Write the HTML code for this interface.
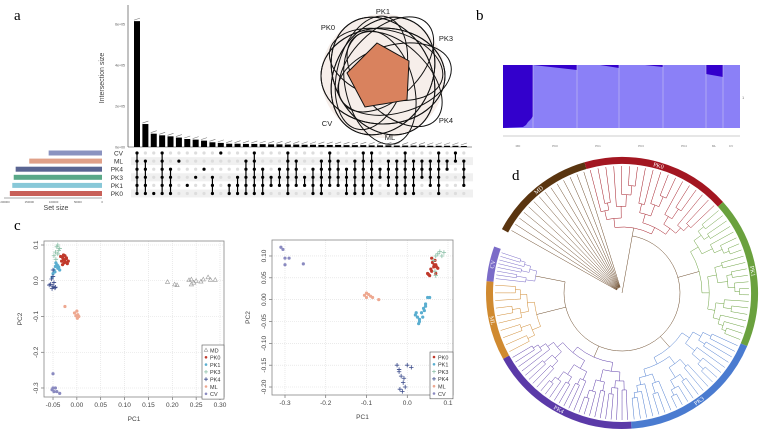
<!DOCTYPE html>
<html><head><meta charset="utf-8"><style>
body{margin:0;background:#fff;width:764px;height:436px;overflow:hidden;font-family:"Liberation Sans",sans-serif}
svg{position:absolute;left:0;top:0}
</style></head><body>
<svg id="s" width="764" height="436" viewBox="0 0 764 436">
<g font-family="Liberation Serif, serif" font-size="15" fill="#000">
<text x="14" y="20">a</text>
<text x="476" y="20">b</text>
<text x="14" y="230">c</text>
<text x="512" y="180">d</text>
</g>
<g id="upset"></g>
<g id="venn"></g>
<g id="struct"></g>
<g id="pca1"></g>
<g id="pca2"></g>
<g id="tree"></g>
</svg>
<script>
// ===== UpSet data =====
const upsetSets=["CV","ML","PK4","PK3","PK1","PK0"];
const setSizes=[110000,150000,178000,182000,185000,190000];
const setColors=["#8b93c0","#e0a088","#5a6592","#5aa888","#88c8d8","#c86058"];
const interSizes=[614000,112000,65000,57000,52000,46000,39000,36000,31000,23000,20000,16000,16000,15000,15000,14000,13000,13000,12000,12000,11000,11000,10000,10000,10000,9000,9000,9000,8000,8000,8000,7000,7000,7000,7000,6000,6000,6000,6000,5000];
const interMembers=["CV,ML,PK4,PK3,PK1,PK0","ML,PK4,PK3,PK1,PK0","PK0","CV,ML,PK4,PK3,PK1,PK0","PK4,PK3,PK1,PK0","ML","PK1","PK3","PK4","PK3,PK1,PK0","CV","PK1,PK0","PK3,PK1,PK0","ML,PK4,PK3,PK1,PK0","CV,ML,PK4,PK3,PK1,PK0","PK4,PK3,PK1,PK0","PK3,PK1","PK4,PK3,PK1","CV,ML,PK4,PK3,PK1,PK0","ML,PK4,PK3,PK1","PK3,PK1","PK4,PK3,PK1,PK0","ML,PK4,PK3,PK1,PK0","CV,ML,PK4,PK3,PK1","ML,PK4,PK3,PK1","PK4,PK3,PK1,PK0","ML,PK4,PK3,PK1,PK0","CV,ML,PK4,PK3,PK1,PK0","CV,ML,PK4,PK3,PK1,PK0","PK4,PK3","ML,PK4,PK3,PK1","ML,PK4,PK3,PK1,PK0","CV,ML,PK4,PK3,PK1,PK0","ML,PK4,PK3,PK1,PK0","ML,PK4,PK3","ML,PK4,PK3,PK1","CV,ML,PK4,PK3,PK1,PK0","ML,PK4","CV,ML","ML,PK4,PK3,PK1"];
const yTicksUp=[0,200000,400000,600000];
const yTickLabelsUp=["0e+00","2e+05","4e+05","6e+05"];

// ===== PCA left data =====
const pcaGroups=["MD","PK0","PK1","PK3","PK4","ML","CV"];
const pcaColors=["#999","#c0392b","#5aaed0","#8cc0a8","#3a4a8a","#eea890","#8a8ac0"];
const pcaSym=["tri","dot","dot","plus","plus","dot","dot"];
const p1x={MD:[0.19,0.205,0.21,0.235,0.24,0.245,0.25,0.26,0.265,0.275,0.28,0.29,0.24],
 PK0:[-0.03,-0.028,-0.025,-0.032,-0.027,-0.022,-0.03,-0.026,-0.02,-0.018,-0.034,-0.024,-0.028,-0.022],
 PK1:[-0.045,-0.042,-0.04,-0.048,-0.038,-0.044,-0.05,-0.036,-0.046,-0.04,-0.052],
 PK3:[-0.042,-0.038,-0.045,-0.04,-0.036,-0.048,-0.044,-0.04],
 PK4:[-0.055,-0.05,-0.048,-0.053,-0.046,-0.058,-0.05,-0.045,-0.052,-0.05],
 ML:[-0.025,-0.005,0.0,0.002,0.004,-0.002,0.001],
 CV:[-0.05,-0.052,-0.048,-0.045,-0.042,-0.05,-0.036]};
const p1y={MD:[-0.003,-0.01,-0.012,0.002,0.004,-0.005,0.0,-0.002,0.004,0.01,0.003,0.003,-0.01],
 PK0:[0.065,0.06,0.07,0.055,0.05,0.062,0.045,0.058,0.048,0.055,0.068,0.052,0.072,0.064],
 PK1:[0.04,0.045,0.035,0.03,0.038,0.05,0.02,0.03,0.025,0.042,0.01],
 PK3:[0.095,0.085,0.08,0.075,0.09,0.07,0.06,0.1],
 PK4:[-0.01,-0.015,-0.005,0.005,-0.02,-0.012,0.012,-0.018,-0.022,0.03],
 ML:[-0.072,-0.09,-0.085,-0.095,-0.1,-0.098,-0.105],
 CV:[-0.3,-0.305,-0.31,-0.3,-0.31,-0.26,-0.315]};
const p1xTicks=[-0.05,0,0.05,0.1,0.15,0.2,0.25,0.3];
const p1xLabels=["-0.05","0.00","0.05","0.10","0.15","0.20","0.25","0.30"];
const p1yTicks=[0.1,0,-0.1,-0.2,-0.3];
const p1yLabels=["0.1","0.0","-0.1","-0.2","-0.3"];

// ===== PCA right data =====
const pca2Groups=["PK0","PK1","PK3","PK4","ML","CV"];
const p2x={PK0:[0.05,0.055,0.06,0.065,0.07,0.062,0.058,0.068,0.072,0.052,0.066,0.06,0.075,0.07],
 PK1:[0.02,0.025,0.03,0.035,0.04,0.045,0.05,0.03,0.038,0.042,0.028,0.055,0.045,0.022],
 PK3:[0.07,0.075,0.08,0.085,0.09,0.065,0.07,0.068],
 PK4:[-0.025,-0.02,-0.015,-0.01,-0.005,0.0,0.01,-0.018,-0.012,-0.008,-0.02],
 ML:[-0.105,-0.1,-0.095,-0.09,-0.085,-0.07,-0.1],
 CV:[-0.31,-0.305,-0.3,-0.3,-0.29,-0.255]};
const p2y={PK0:[0.06,0.055,0.065,0.075,0.08,0.085,0.07,0.09,0.075,0.058,0.08,0.095,0.072,0.06],
 PK1:[-0.035,-0.04,-0.045,-0.03,-0.02,-0.01,0.005,-0.05,-0.04,-0.025,-0.055,0.005,-0.015,-0.03],
 PK3:[0.1,0.105,0.11,0.1,0.108,0.09,0.055,0.065],
 PK4:[-0.15,-0.16,-0.175,-0.19,-0.2,-0.15,-0.155,-0.205,-0.21,-0.18,-0.165],
 ML:[0.01,0.005,0.012,0.008,0.005,0.0,0.015],
 CV:[0.12,0.115,0.095,0.08,0.095,0.082]};
const p2xTicks=[-0.3,-0.2,-0.1,0,0.1];
const p2xLabels=["-0.3","-0.2","-0.1","0.0","0.1"];
const p2yTicks=[0.1,0.05,0,-0.05,-0.1,-0.15,-0.2];
const p2yLabels=["0.10","0.05","0.00","-0.05","-0.10","-0.15","-0.20"];

const NS="http://www.w3.org/2000/svg";
function mk(parent,tag,attrs,txt){const e=document.createElementNS(NS,tag);for(const k in attrs)e.setAttribute(k,attrs[k]);if(txt!==undefined)e.textContent=txt;parent.appendChild(e);return e;}

// ===== UpSet =====
(function(){
const g=document.getElementById('upset');
const base=147, top6=24;
const yS=v=>base-(v/600000)*(base-top6);
const x0=134, step=8.38, bw=6;
const xS=i=>x0+i*step;
mk(g,'line',{x1:128,y1:5,x2:128,y2:base,stroke:'#333','stroke-width':0.6});
mk(g,'line',{x1:128,y1:base,x2:472,y2:base,stroke:'#333','stroke-width':0.6});
yTicksUp.forEach((t,i)=>{const tl=mk(g,'text',{x:125,y:yS(t)+1.5,'font-size':3.5,'text-anchor':'end',fill:'#555'},yTickLabelsUp[i]);

});
const yt=mk(g,'text',{x:0,y:0,'font-size':7,fill:'#444','text-anchor':'middle',transform:'translate(104,78) rotate(-90)'},'Intersection size');


interSizes.forEach((v,i)=>{const r=mk(g,'rect',{x:xS(i),y:yS(v),width:bw,height:base-yS(v),fill:'#000'});


mk(g,'line',{x1:xS(i),y1:yS(v)-1,x2:xS(i)+bw,y2:yS(v)-3,stroke:'#777','stroke-width':0.6});});
const rowY=k=>153+k*8.1;
upsetSets.forEach((s,k)=>{ if(k%2==1) mk(g,'rect',{x:131,y:rowY(k)-4,width:342,height:8,fill:'#f0f0f0'});
const lab=mk(g,'text',{x:123,y:rowY(k)+2.5,'font-size':6.5,'text-anchor':'end',fill:'#333'},s);


const w=(setSizes[k]/200000)*97;
const sb=mk(g,'rect',{x:102-w,y:rowY(k)-2.5,width:w,height:5,fill:setColors[k]});

});
interMembers.forEach((m,i)=>{const cx=xS(i)+bw/2;const mem=m.split(',');
const idx=mem.map(s=>upsetSets.indexOf(s));
upsetSets.forEach((s,k)=>{mk(g,'circle',{cx:cx,cy:rowY(k),r:1.6,fill:idx.includes(k)?'#000':'#ddd'});});
if(idx.length>1){mk(g,'line',{x1:cx,y1:rowY(Math.min(...idx)),x2:cx,y2:rowY(Math.max(...idx)),stroke:'#000','stroke-width':1.2});}});
mk(g,'line',{x1:4,y1:198,x2:102,y2:198,stroke:'#555','stroke-width':0.5});
["200000","150000","100000","50000","0"].forEach((t,i)=>{mk(g,'text',{x:5+i*24.3,y:203,'font-size':2.8,fill:'#555','text-anchor':'middle'},t);});
const st=mk(g,'text',{x:56,y:210,'font-size':7,fill:'#444','text-anchor':'middle'},'Set size');


})();

// ===== Venn =====
(function(){
const g=document.getElementById('venn');const cx=383,cy=76;
mk(g,'circle',{cx:cx,cy:cy,r:62,fill:'#f6eeea'});
for(let i=0;i<6;i++){mk(g,'ellipse',{cx:cx+Math.sin(i*Math.PI/3)*12,cy:cy-Math.cos(i*Math.PI/3)*12,rx:58,ry:34,transform:`rotate(${i*30+15} ${cx} ${cy})`,fill:'none',stroke:'#111','stroke-width':1});}
for(let i=0;i<6;i++){mk(g,'ellipse',{cx:cx,cy:cy,rx:62,ry:48,transform:`rotate(${i*60} ${cx} ${cy})`,fill:'none',stroke:'#111','stroke-width':1});}
const p=mk(g,'polygon',{points:'377,43 409,61 407,100 365,107 347,73',fill:'#d9825e',stroke:'#111','stroke-width':1});


[["PK1",383,14],["PK0",328,30],["PK3",446,41],["CV",327,126],["PK4",446,123],["ML",390,140]].forEach(l=>{const t=mk(g,'text',{x:l[1],y:l[2],'font-size':7.5,'text-anchor':'middle',fill:'#222'},l[0]);

});
})();

// ===== Structure =====
(function(){
const g=document.getElementById('struct');
mk(g,'rect',{x:503,y:65,width:237,height:63,fill:'#8b80f7'});
mk(g,'polygon',{points:'503,65 533,65 533,116 531,119 528,122 526,125 523,127 503,128',fill:'#3300cc'});
mk(g,'polygon',{points:'533,65 577,65 577,70',fill:'#3300cc'});
mk(g,'polygon',{points:'600,65 619,65 619,68',fill:'#3300cc'});
mk(g,'polygon',{points:'645,65 663,65 663,67',fill:'#3300cc'});
mk(g,'polygon',{points:'706,65 723,65 723,77 706,74',fill:'#3300cc'});
[533,577,619,663,706,723].forEach(x=>mk(g,'line',{x1:x,y1:65,x2:x,y2:128,stroke:'#c8c4f0','stroke-width':0.6}));
mk(g,'line',{x1:503,y1:136,x2:740,y2:136,stroke:'#bbb','stroke-width':0.8});
["MD","PK0","PK1","PK3","PK4","ML","CV"].forEach((t,i)=>{const xs=[518,555,598,641,684,714,731];mk(g,'text',{x:xs[i],y:147,'font-size':3,'text-anchor':'middle',fill:'#777'},t);});
mk(g,'text',{x:742,y:99,'font-size':4,fill:'#777'},'1');
})();

// ===== PCA helper =====
function pca(gid,box,xr,yr,xt,xl,yt,yl,groups,xs,ys,legBox){
const g=document.getElementById(gid);
const [L,T,R,B]=box;
const X=v=>L+(v-xr[0])/(xr[1]-xr[0])*(R-L);
const Y=v=>B-(v-yr[0])/(yr[1]-yr[0])*(B-T);
xt.forEach((t,i)=>{mk(g,'line',{x1:X(t),y1:T,x2:X(t),y2:B,stroke:'#ddd','stroke-width':0.6,'stroke-dasharray':'1,1'});
mk(g,'line',{x1:X(t),y1:B,x2:X(t),y2:B+3,stroke:'#555','stroke-width':0.6});
const tl=mk(g,'text',{x:X(t),y:B+10,'font-size':6.5,'text-anchor':'middle',fill:'#444'},xl[i]);

});
yt.forEach((t,i)=>{mk(g,'line',{x1:L,y1:Y(t),x2:R,y2:Y(t),stroke:'#ddd','stroke-width':0.6,'stroke-dasharray':'1,1'});
mk(g,'line',{x1:L-3,y1:Y(t),x2:L,y2:Y(t),stroke:'#555','stroke-width':0.6});
const tl=mk(g,'text',{x:0,y:0,'font-size':6.5,'text-anchor':'middle',fill:'#444',transform:`translate(${L-6},${Y(t)}) rotate(-90)`},yl[i]);

});
mk(g,'rect',{x:L,y:T,width:R-L,height:B-T,fill:'none',stroke:'#888','stroke-width':0.8});
const xa=mk(g,'text',{x:(L+R)/2,y:B+24,'font-size':6.5,'text-anchor':'middle',fill:'#444'},'PC1');


const ya=mk(g,'text',{x:0,y:0,'font-size':6.5,'text-anchor':'middle',fill:'#444',transform:`translate(${L-22},${(T+B)/2}) rotate(-90)`},'PC2');


function sym(sg,k,x,y,s){const c=pcaColors[k],sy=pcaSym[k];
if(sy=='dot')return mk(sg,'circle',{cx:x,cy:y,r:s,fill:c});
if(sy=='plus'){const p=mk(sg,'path',{d:`M${x-s-0.6},${y}h${2*s+1.2}M${x},${y-s-0.6}v${2*s+1.2}`,stroke:c,'stroke-width':0.8});return p;}
return mk(sg,'path',{d:`M${x},${y-s-0.5}L${x+s+0.5},${y+s}L${x-s-0.5},${y+s}Z`,fill:'none',stroke:c,'stroke-width':0.6});}
groups.forEach(gn=>{const k=pcaGroups.indexOf(gn);xs[gn].forEach((v,i)=>{const m=sym(g,k,X(v),Y(ys[gn][i]),1.6);

});});
const [lx,ly,lw]=legBox;
mk(g,'rect',{x:lx,y:ly,width:lw,height:groups.length*7.3+3,fill:'#fff',stroke:'#555','stroke-width':0.6});
groups.forEach((gn,i)=>{const k=pcaGroups.indexOf(gn);sym(g,k,lx+4,ly+5+i*7.3,1.3);
const t=mk(g,'text',{x:lx+8,y:ly+7.3+i*7.3,'font-size':5.5,fill:'#333'},gn);

});
}
pca('pca1',[44,241,224,397],[-0.0689,0.3084],[-0.3252,0.1112],p1xTicks,p1xLabels,p1yTicks,p1yLabels,pcaGroups,p1x,p1y,[202,345,22]);
pca('pca2',[272,240,453,395],[-0.3319,0.1123],[-0.2183,0.1366],p2xTicks,p2xLabels,p2yTicks,p2yLabels,pca2Groups,p2x,p2y,[430,352,23]);

// ===== Tree =====
(function(){
const g=document.getElementById('tree');const cx=622,cy=293,R=136,RW=7;
const clades=[["MD",-62,-16,"#5a3510",14],["PK0",-16,48,"#a31621",18],["PK1",48,113,"#6aa13e",22],["PK3",113,176,"#4a7bd0",22],["PK4",176,241,"#5b3aa8",26],["ML",241,275,"#d08a30",10],["CV",275,290,"#7b6cc8",8]];
const P=(a,r)=>[cx+r*Math.sin(a*Math.PI/180),cy-r*Math.cos(a*Math.PI/180)];
function arc(a0,a1,r,col,w){const p0=P(a0,r),p1=P(a1,r);return mk(g,'path',{d:`M${p0[0]},${p0[1]}A${r},${r} 0 ${Math.abs(a1-a0)>180?1:0} ${a1>a0?1:0} ${p1[0]},${p1[1]}`,fill:'none',stroke:col,'stroke-width':w||0.5});}
function rad(a,r0,r1,col){const p0=P(a,r0),p1=P(a,r1);mk(g,'line',{x1:p0[0],y1:p0[1],x2:p1[0],y2:p1[1],stroke:col,'stroke-width':0.5});}
const rLeaf=R-RW-2;
function build(angles,r,col,d){ if(angles.length==1){rad(angles[0],r,rLeaf,col);return angles[0];}
const sp=Math.max(1,Math.floor(angles.length*((d%3==0)?0.4:(d%3==1?0.55:0.5))));
const step=Math.min(9,(rLeaf-r)/4);
const a=build(angles.slice(0,sp),r+step,col,d+1),b=build(angles.slice(sp),r+step*(d%2?1.3:0.8),col,d+2);
arc(a,b,r,col);rad(a,r,r+step,col);rad(b,r,r+step*(d%2?1.3:0.8),col);return (a+b)/2;}
const roots=[];
clades.forEach(c=>{const [nm,a0,a1,col,n]=c;
const seg=arc(a0,a1,R-RW/2,col,RW);


const ml=P((a0+a1)/2,R-RW/2);const tx=mk(g,'text',{x:ml[0],y:ml[1]+2,'font-size':6,fill:'#fff','text-anchor':'middle','font-family':'Liberation Serif,serif',transform:`rotate(${(a0+a1)/2>90&&(a0+a1)/2<270?(a0+a1)/2+180:(a0+a1)/2} ${ml[0]} ${ml[1]})`},nm);


const ang=[];for(let i=0;i<n;i++)ang.push(a0+1.5+(a1-a0-3)*i/(n-1));
if(nm=="MD"){ang.forEach(a=>rad(a,6,rLeaf,'#6b4a2a'));}
else{const rr={PK0:66,PK1:80,PK3:72,PK4:70,ML:88,CV:88}[nm];roots.push([build(ang,rr,col,0),rr]);}});
const bb=58;arc(roots[0][0],roots[roots.length-1][0],bb,'#6b4a2a');
roots.forEach(r=>rad(r[0],bb,r[1],'#6b4a2a'));
const mid=P(roots[0][0],bb);mk(g,'line',{x1:cx,y1:cy,x2:mid[0],y2:mid[1],stroke:'#6b4a2a','stroke-width':0.5});
})();
</script>
</body></html>
